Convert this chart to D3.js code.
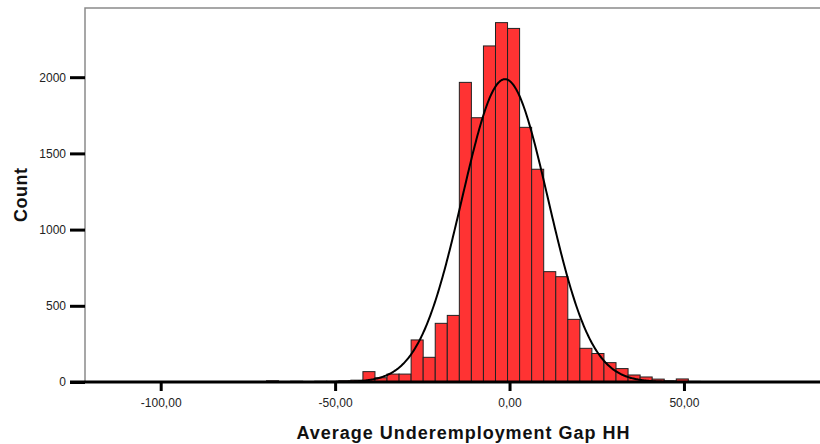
<!DOCTYPE html>
<html>
<head>
<meta charset="utf-8">
<script src="https://cdn.jsdelivr.net/npm/d3@7"></script>
<style>
  html, body { margin: 0; padding: 0; background: #fff; }
  svg { display: block; font-family: "Liberation Sans", Arial, sans-serif; }
</style>
</head>
<body>
<svg id="chart" width="820" height="444"></svg>
<script>
// Histogram of the household underemployment gap with a fitted normal curve.
const binStart = -69.67;      // lower edge of the first bin
const binWidth = 3.455;       // width of every bin
const binCounts = [
  8, 0, 5, 0, 5, 5, 8, 12, 68, 28, 52, 52, 276, 162, 385, 437,
  1966, 1734, 2205, 2358, 2320, 1671, 1396, 724, 691, 411, 221, 187,
  127, 88, 46, 33, 19, 8, 20, 4
];
const curveMean = -1.3;
const curveSd = 12.3;
const xTicks = [-100, -50, 0, 50];
const yTicks = [0, 500, 1000, 1500, 2000];
const xTitle = "Average Underemployment Gap HH";
const yTitle = "Count";

const svg = d3.select("#chart");
const plotLeft = 85, plotRight = 820, plotTop = 8, plotBottom = 382;

const x = d3.scaleLinear().domain([-121.7, 89]).range([plotLeft, plotRight]);
const y = d3.scaleLinear().domain([0, 2454]).range([plotBottom, plotTop]);

const locale = d3.formatLocale({ decimal: ",", thousands: ".", grouping: [3], currency: ["", ""], minus: "-" });
const fmtX = locale.format(".2f");

// plot frame (left and top edges)
svg.append("path")
  .attr("d", `M${plotLeft},${plotBottom} V${plotTop} H${plotRight}`)
  .attr("fill", "none").attr("stroke", "#8a8a8a").attr("stroke-width", 1.5);

// bars
const bins = binCounts.map((c, i) => ({ x0: binStart + i * binWidth, x1: binStart + (i + 1) * binWidth, count: c }));
svg.append("g").selectAll("rect")
  .data(bins.filter(d => d.count > 0))
  .join("rect")
  .attr("x", d => x(d.x0))
  .attr("width", d => x(d.x1) - x(d.x0))
  .attr("y", d => y(d.count))
  .attr("height", d => y(0) - y(d.count))
  .attr("fill", "#ff3333")
  .attr("stroke", "#222")
  .attr("stroke-width", 1);

// fitted normal curve scaled to counts
const total = d3.sum(binCounts);
const pdf = v => Math.exp(-0.5 * ((v - curveMean) / curveSd) ** 2) / (curveSd * Math.sqrt(2 * Math.PI));
const xs = d3.range(-121.7, 89.01, 0.25);
svg.append("path")
  .datum(xs)
  .attr("fill", "none")
  .attr("stroke", "#000")
  .attr("stroke-width", 2)
  .attr("d", d3.line().x(v => x(v)).y(v => y(total * binWidth * pdf(v))));

// y axis ticks
const yAxis = svg.append("g").attr("transform", `translate(${plotLeft},0)`)
  .call(d3.axisLeft(y).tickValues(yTicks).tickSize(15).tickPadding(4).tickFormat(d3.format("d")));
yAxis.select(".domain").remove();
yAxis.selectAll(".tick line").attr("stroke", "#000").attr("stroke-width", 3);
yAxis.selectAll(".tick text").attr("font-size", 12).attr("fill", "#222")
  .attr("font-family", "Liberation Sans, Arial, sans-serif");

// baseline
svg.append("line")
  .attr("x1", plotLeft - 15).attr("x2", plotRight)
  .attr("y1", plotBottom).attr("y2", plotBottom)
  .attr("stroke", "#000").attr("stroke-width", 3);

// x axis ticks
const xAxis = svg.append("g").attr("transform", `translate(0,${plotBottom})`)
  .call(d3.axisBottom(x).tickValues(xTicks).tickSize(9).tickPadding(7).tickFormat(fmtX));
xAxis.select(".domain").remove();
xAxis.selectAll(".tick line").attr("stroke", "#000").attr("stroke-width", 3);
xAxis.selectAll(".tick text").attr("font-size", 12).attr("fill", "#222")
  .attr("font-family", "Liberation Sans, Arial, sans-serif");

// axis titles
svg.append("text")
  .attr("x", 463).attr("y", 439)
  .attr("text-anchor", "middle")
  .attr("font-size", 18).attr("font-weight", "bold").attr("fill", "#111")
  .attr("textLength", 333).attr("lengthAdjust", "spacing")
  .text(xTitle);

svg.append("text")
  .attr("transform", "translate(27,195) rotate(-90)")
  .attr("text-anchor", "middle")
  .attr("font-size", 18).attr("font-weight", "bold").attr("fill", "#111")
  .attr("textLength", 54).attr("lengthAdjust", "spacing")
  .text(yTitle);
</script>
</body>
</html>
